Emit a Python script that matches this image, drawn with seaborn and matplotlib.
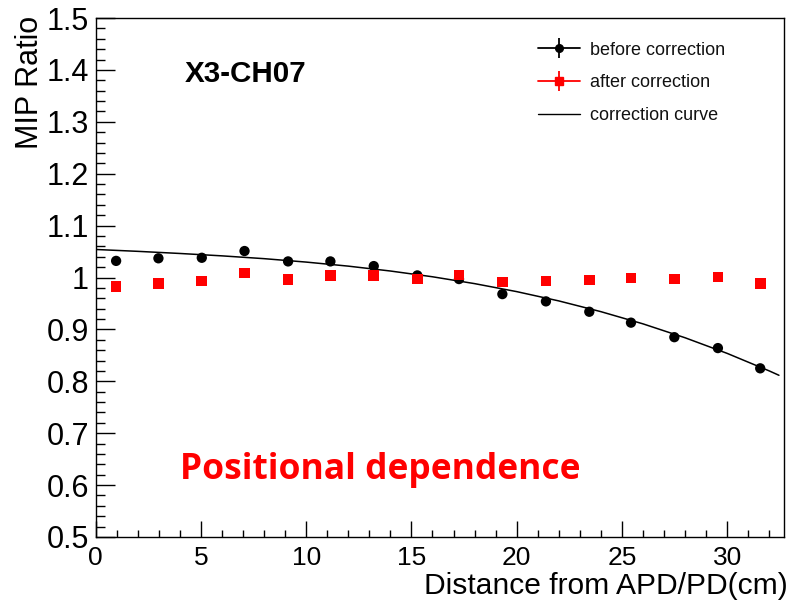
import matplotlib
matplotlib.use("Agg")
import matplotlib.pyplot as plt
import seaborn as sns
import pandas as pd
from matplotlib.lines import Line2D
from matplotlib.ticker import MultipleLocator, FixedLocator

# ---- data ----
distance = [0.97, 2.98, 5.04, 7.07, 9.14, 11.15, 13.21, 15.28,
            17.26, 19.32, 21.39, 23.45, 25.43, 27.49, 29.56, 31.57]
before_corr = [1.032, 1.037, 1.038, 1.051, 1.031, 1.031, 1.022, 1.004,
               0.997, 0.968, 0.954, 0.934, 0.913, 0.885, 0.864, 0.825]
after_corr = [0.983, 0.988, 0.993, 1.009, 0.996, 1.004, 1.004, 0.997,
              1.005, 0.991, 0.993, 0.995, 0.999, 0.997, 1.001, 0.988]
curve_x = [0, 2, 4, 6, 8, 10, 12, 14, 16, 18, 20, 22, 24, 26, 28, 30, 32, 32.46]
curve_y = [1.0540, 1.0504, 1.0463, 1.0417, 1.0363, 1.0297, 1.0219, 1.0125, 1.0014,
           0.9882, 0.9728, 0.9549, 0.9342, 0.9107, 0.8839, 0.8538, 0.8200, 0.8116]
y_ticks = [0.5, 0.6, 0.7, 0.8, 0.9, 1.0, 1.1, 1.2, 1.3, 1.4, 1.5]
y_tick_labels = ["0.5", "0.6", "0.7", "0.8", "0.9", "1", "1.1", "1.2", "1.3", "1.4", "1.5"]
x_ticks = [0, 5, 10, 15, 20, 25, 30]
x_tick_labels = ["0", "5", "10", "15", "20", "25", "30"]
legend_labels = ["before correction", "after correction", "correction curve"]

sns.set_theme(style="ticks")
plt.rcParams['font.family'] = ['Liberation Sans', 'DejaVu Sans']
plt.rcParams['text.color'] = 'black'

W, H = 792, 605
fig = plt.figure(figsize=(W / 100, H / 100), dpi=100)
L, R, T, B = 95.7, 784.0, 18.0, 537.0
ax = fig.add_axes([L / W, 1 - B / H, (R - L) / W, (B - T) / H])

df_before = pd.DataFrame({"x": distance, "y": before_corr})
df_after = pd.DataFrame({"x": distance, "y": after_corr})
df_curve = pd.DataFrame({"x": curve_x, "y": curve_y})

sns.lineplot(data=df_curve, x="x", y="y", color="black", lw=1.1, ax=ax,
             sort=False, zorder=2)
sns.scatterplot(data=df_before, x="x", y="y", color="black", marker="o",
                s=55, edgecolor="none", ax=ax, zorder=3)
sns.scatterplot(data=df_after, x="x", y="y", color="#ff0000", marker="s",
                s=58, edgecolor="none", ax=ax, zorder=3)

ax.set_xlim(0, 32.7)
ax.set_ylim(0.5, 1.5)
ax.yaxis.set_major_locator(FixedLocator(y_ticks))
ax.set_yticklabels(y_tick_labels)
ax.yaxis.set_minor_locator(MultipleLocator(0.02))
ax.xaxis.set_major_locator(FixedLocator(x_ticks))
ax.set_xticklabels(x_tick_labels)
ax.xaxis.set_minor_locator(MultipleLocator(1))

ax.tick_params(axis="both", which="both", direction="in", top=False, right=False,
               color="black", width=1.0, labelcolor="black")
ax.tick_params(axis="y", which="major", length=13.7, labelsize=22, pad=5)
ax.tick_params(axis="y", which="minor", length=6.8)
ax.tick_params(axis="x", which="major", length=11.5, labelsize=19, pad=6.5)
ax.tick_params(axis="x", which="minor", length=5.3)
for sp in ax.spines.values():
    sp.set_visible(True)
    sp.set_color("black")
    sp.set_linewidth(1.0)

ax.set_xlabel("Distance from APD/PD(cm)", loc="right", fontsize=21.6, color="black")
ax.set_ylabel("MIP Ratio", loc="top", fontsize=22, color="black")
ax.xaxis.set_label_coords(1.005, -0.067)
ax.yaxis.set_label_coords(-0.0735, 1.004)

fig.text(185 / W, 1 - 81.7 / H, "X3-CH07", ha="left", va="baseline",
         fontsize=21.3, fontweight="bold", color="black")
fig.text(180 / W, 1 - 479.3 / H, "Positional dependence", ha="left", va="baseline",
         fontsize=25.5, fontweight="bold", color="#ff0000",
         family=["Open Sans", "DejaVu Sans"])

h_before = (Line2D([], [], color="black", lw=1.3),
            Line2D([], [], color="black", marker="|", ms=14, mew=1.3, ls="none"),
            Line2D([], [], color="black", marker="o", ms=5.5, ls="none"))
h_after = (Line2D([], [], color="#ff0000", lw=1.3),
           Line2D([], [], color="#ff0000", marker="|", ms=14, mew=1.3, ls="none"),
           Line2D([], [], color="#ff0000", marker="s", ms=6, ls="none"))
h_curve = Line2D([], [], color="black", lw=1.0)
leg = ax.legend([h_before, h_after, h_curve], legend_labels,
                loc="upper left", bbox_to_anchor=(538 / W, 1 - 41.8 / H),
                bbox_transform=fig.transFigure, frameon=False, fontsize=13,
                borderpad=0, borderaxespad=0, handlelength=2.33, handletextpad=0.55,
                labelspacing=0.86)
for t in leg.get_texts():
    t.set_color("#111111")

fig.savefig("out.png", dpi=100)
